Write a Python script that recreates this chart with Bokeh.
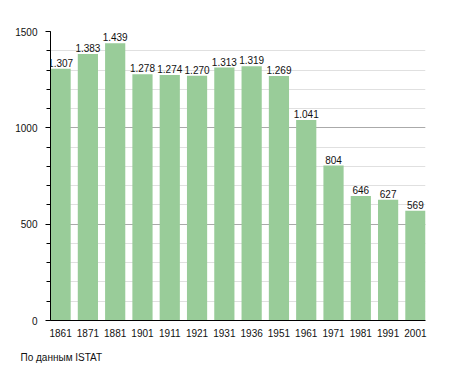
from bokeh.plotting import figure
from bokeh.models import ColumnDataSource, Range1d, SingleIntervalTicker, FixedTicker, LabelSet, Title
from bokeh.core.properties import value
from bokeh.embed import file_html
from bokeh.resources import INLINE

years = ["1861", "1871", "1881", "1901", "1911", "1921", "1931", "1936", "1951", "1961", "1971", "1981", "1991", "2001"]
population = [1307, 1383, 1439, 1278, 1274, 1270, 1313, 1319, 1269, 1041, 804, 646, 627, 569]
labels = ["1.307", "1.383", "1.439", "1.278", "1.274", "1.270", "1.313", "1.319", "1.269", "1.041", "804", "646", "627", "569"]

idx = list(range(len(years)))
src = ColumnDataSource(dict(x=idx, y=population, t=labels))

FONT = "Liberation Sans"
FS = "10px"
BW = 0.74

p = figure(x_range=Range1d(-BW / 2, len(years) - 1 + BW / 2), y_range=Range1d(0, 1500),
           width=447, height=373,
           output_backend="svg", toolbar_location=None,
           min_border_left=50, min_border_right=22, min_border_top=31, min_border_bottom=0)
p.outline_line_color = None
p.background_fill_color = "white"
p.border_fill_color = "white"

p.vbar(x="x", top="y", width=BW, source=src, fill_color="#99cc99", line_color=None)

p.add_layout(LabelSet(x="x", y="y", text="t", source=src, text_align="center",
                      text_baseline="bottom", y_offset=2, text_font_size=value(FS),
                      text_font=value(FONT), text_color="#111111"))

ticker = SingleIntervalTicker(interval=500, num_minor_ticks=5)
p.yaxis.ticker = ticker
p.ygrid.ticker = ticker
p.ygrid.grid_line_color = "#aaaaaa"
p.ygrid.minor_grid_line_color = "#e0e0e0"
p.xgrid.grid_line_color = None
p.ygrid.level = "underlay"

p.yaxis.axis_line_color = "black"
p.yaxis.major_tick_line_color = "black"
p.yaxis.minor_tick_line_color = "black"
p.yaxis.major_tick_out = 5
p.yaxis.major_tick_in = 0
p.yaxis.minor_tick_out = 4
p.yaxis.minor_tick_in = 0
p.yaxis.major_label_text_font = FONT
p.yaxis.major_label_text_font_size = FS
p.yaxis.major_label_text_color = "#111111"
p.yaxis.major_label_standoff = 8

p.xaxis.ticker = FixedTicker(ticks=idx)
p.xaxis.major_label_overrides = {i: y for i, y in zip(idx, years)}
p.xaxis.axis_line_color = "black"
p.xaxis.major_tick_line_color = None
p.xaxis.minor_tick_line_color = None
p.xaxis.major_label_text_font = FONT
p.xaxis.major_label_text_font_size = FS
p.xaxis.major_label_text_color = "#111111"
p.xaxis.major_label_standoff = 2

p.add_layout(Title(text="По данным  ISTAT", align="left", offset=-30, standoff=21,
                   text_font=FONT, text_font_size=FS, text_font_style="normal",
                   text_color="#111111"), "below")

html = file_html(p, INLINE)
open("out.html", "w").write(html)
